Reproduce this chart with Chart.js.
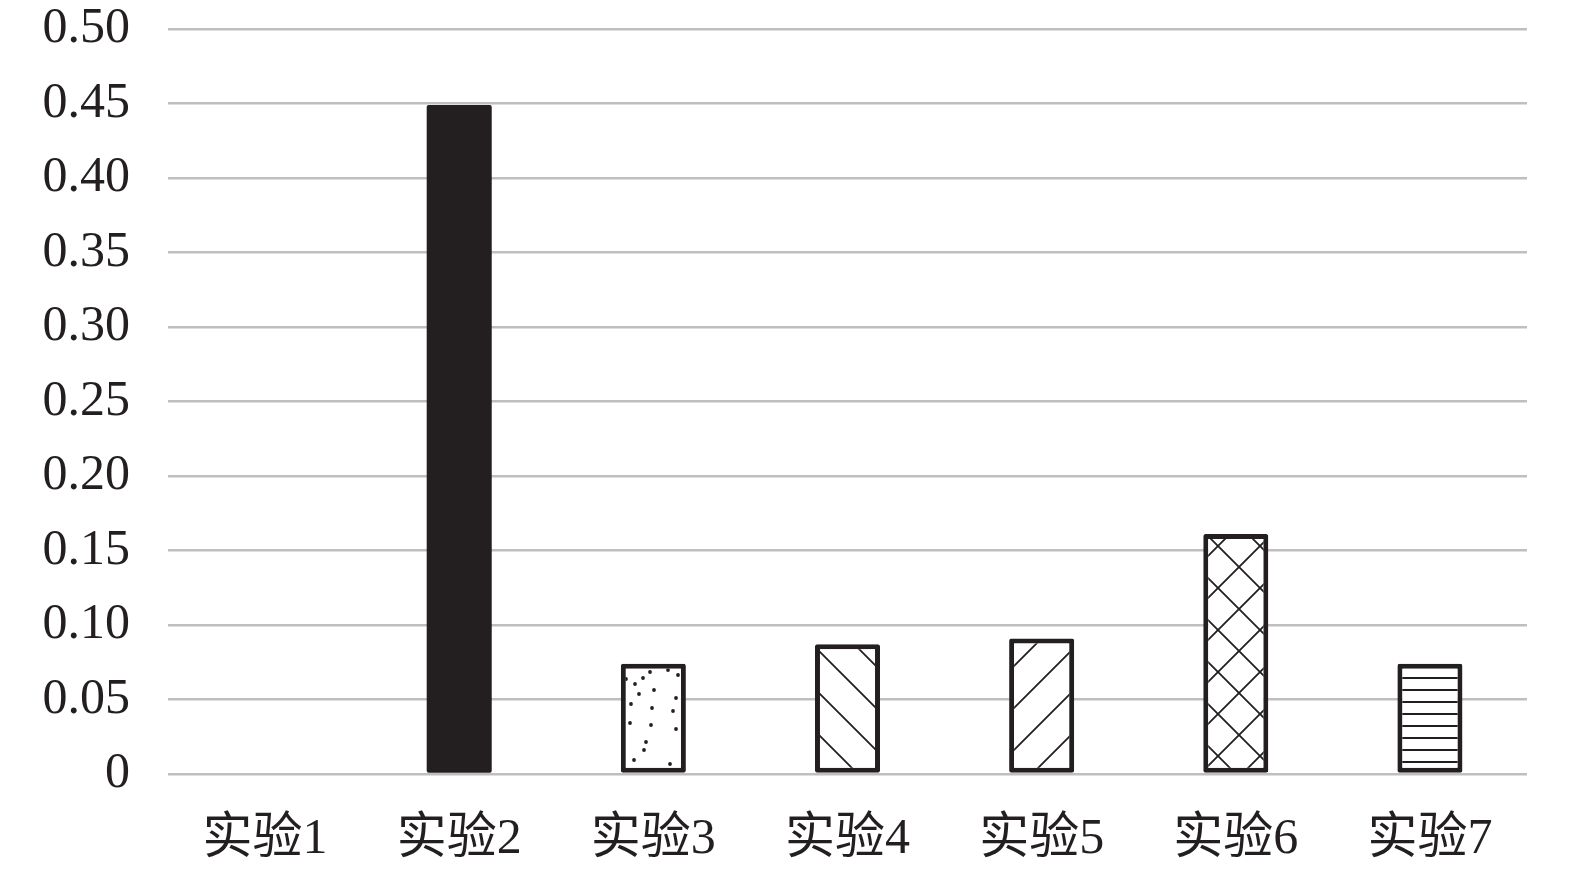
<!DOCTYPE html>
<html>
<head>
<meta charset="utf-8">
<script src="https://cdn.jsdelivr.net/npm/chart.js@4/dist/chart.umd.min.js"></script>
<style>
  html, body { margin: 0; padding: 0; background: #fff; }
  #wrap { width: 1575px; height: 872px; }
</style>
</head>
<body>
<div id="wrap"><canvas id="expChart" width="1575" height="872"></canvas></div>
<script>
// DATA
const categories = ['实验1', '实验2', '实验3', '实验4', '实验5', '实验6', '实验7'];
const values = [0, 0.449, 0.074, 0.087, 0.091, 0.161, 0.074];
const yTicks = [0, 0.05, 0.10, 0.15, 0.20, 0.25, 0.30, 0.35, 0.40, 0.45, 0.50];
const fills = ['solid', 'solid', 'dots', 'back', 'fwd', 'cross', 'hlines'];

const INK = '#231f20';

// pattern tiles
function makePattern(kind) {
  if (kind === 'solid') return INK;
  const c = document.createElement('canvas');
  const ctx = c.getContext('2d');
  if (kind === 'dots') {
    c.width = 66; c.height = 110;
    ctx.fillStyle = '#fff';
    ctx.fillRect(0, 0, c.width, c.height);
    ctx.fillStyle = INK;
    const pts = [[8,10],[18,15],[32,19],[41,24],[49,18],[56,12],[27,3],[16,38],[37,44],[13,51],[58,48],[36,63],[16,69],[57,65],[52,82],[23,86],[50,90],[40,100],[10,104],[60,30],[45,34],[28,76]];
    pts.forEach(p => { ctx.beginPath(); ctx.arc(p[0], p[1], 1.9, 0, Math.PI * 2); ctx.fill(); });
  } else if (kind === 'hlines') {
    c.width = 12; c.height = 12;
    ctx.fillStyle = '#fff';
    ctx.fillRect(0, 0, 12, 12);
    ctx.fillStyle = INK;
    ctx.fillRect(0, 5, 12, 2);
  } else {
    const s = 42;
    c.width = s; c.height = s;
    ctx.fillStyle = '#fff';
    ctx.fillRect(0, 0, s, s);
    ctx.strokeStyle = INK;
    ctx.lineWidth = 1.8;
    const back = () => {
      ctx.beginPath();
      ctx.moveTo(-5, -5); ctx.lineTo(s + 5, s + 5);
      ctx.moveTo(-5 - s, -5); ctx.lineTo(5, s + 5);
      ctx.moveTo(s - 5, -5); ctx.lineTo(2 * s + 5, s + 5);
      ctx.stroke();
    };
    const fwd = () => {
      ctx.beginPath();
      ctx.moveTo(-5, s + 5); ctx.lineTo(s + 5, -5);
      ctx.moveTo(-5 - s, s + 5); ctx.lineTo(5, -5);
      ctx.moveTo(s - 5, s + 5); ctx.lineTo(2 * s + 5, -5);
      ctx.stroke();
    };
    if (kind === 'back' || kind === 'cross') back();
    if (kind === 'fwd' || kind === 'cross') fwd();
  }
  return c.getContext('2d').createPattern(c, 'repeat');
}

const bgColors = fills.map(f => makePattern(f));
const borderWidths = fills.map(f => f === 'solid' ? 0 : 5);

const FONT = "'Liberation Serif', 'Noto Sans CJK SC', serif";

new Chart(document.getElementById('expChart'), {
  type: 'bar',
  data: {
    labels: categories,
    datasets: [{
      data: values,
      backgroundColor: bgColors,
      borderColor: INK,
      borderWidth: borderWidths,
      borderRadius: 2,
      borderSkipped: false,
      barPercentage: 0.335,
      categoryPercentage: 1
    }]
  },
  options: {
    responsive: false,
    animation: false,
    layout: { padding: { top: 29, right: 48, left: 0, bottom: 0 } },
    plugins: { legend: { display: false }, tooltip: { enabled: false } },
    scales: {
      x: {
        grid: { display: false },
        border: { display: false },
        ticks: {
          color: INK,
          padding: 28,
          font: { family: FONT, size: 50 }
        },
        afterFit: (scale) => { scale.height = 98; scale.paddingLeft = 0; scale.paddingRight = 0; }
      },
      y: {
        min: 0,
        max: 0.5,
        afterBuildTicks: (scale) => { scale.ticks = yTicks.map(v => ({ value: v })); },
        grid: { color: '#bfbfbf', lineWidth: 2.5, drawTicks: false },
        border: { display: false },
        ticks: {
          color: INK,
          padding: 38,
          font: { family: FONT, size: 50 },
          callback: (v) => v === 0 ? '0' : v.toFixed(2)
        },
        afterFit: (scale) => { scale.width = 168; scale.paddingTop = 0; scale.paddingBottom = 0; }
      }
    }
  }
});
</script>
</body>
</html>
